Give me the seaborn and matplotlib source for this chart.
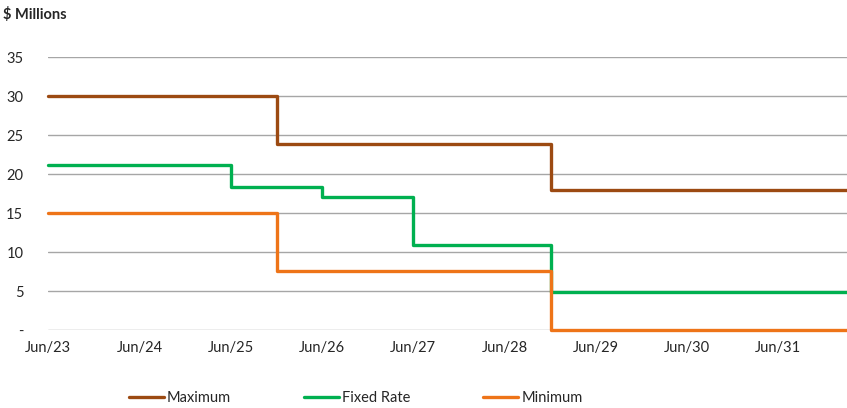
import numpy as np
import matplotlib
matplotlib.use("Agg")
import matplotlib.pyplot as plt
import pandas as pd
import seaborn as sns

# step dates (value holds from this date until the next one)
max_dates = ["2023-06-30", "2025-12-31", "2028-12-31", "2032-03-31"]
max_values = [30.0, 23.8, 17.9, 17.9]

fixed_dates = ["2023-06-30", "2025-06-30", "2026-06-30", "2027-06-30",
               "2028-12-31", "2032-03-31"]
fixed_values = [21.2, 18.4, 17.1, 10.9, 4.9, 4.9]

min_dates = ["2023-06-30", "2025-12-31", "2028-12-31", "2032-03-31"]
min_values = [15.0, 7.6, 0.0, 0.0]

series_names = ["Maximum", "Fixed Rate", "Minimum"]
colors = ["#9C4A12", "#00B050", "#EE7418"]
tick_years = list(range(2023, 2032))
y_ticks = [0, 5, 10, 15, 20, 25, 30, 35]

frames = []
for name, d, v in zip(series_names, [max_dates, fixed_dates, min_dates],
                      [max_values, fixed_values, min_values]):
    frames.append(pd.DataFrame({"date": pd.to_datetime(d), "value": v, "series": name}))
df = pd.concat(frames, ignore_index=True)

sns.set_style("white")
plt.rcParams["font.family"] = ["Lato", "DejaVu Sans"]

fig = plt.figure(figsize=(8.47, 4.08), dpi=100)
ax = fig.add_axes([0.057, 0.191, 0.943, 0.669])

sns.lineplot(data=df, x="date", y="value", hue="series", hue_order=series_names,
             palette=colors, drawstyle="steps-post", linewidth=2.4, ax=ax,
             legend=False, zorder=3)
for line in ax.lines:
    line.set_clip_on(False)

ax.set_ylim(0, 35)
ax.set_xlim(pd.Timestamp("2023-06-30"), pd.Timestamp("2032-03-31"))
ax.set_yticks(y_ticks)
ax.set_yticklabels(["-"] + [str(t) for t in y_ticks[1:]])
ticks = [pd.Timestamp(f"{y}-06-30") for y in tick_years]
ax.set_xticks(ticks)
ax.set_xticklabels([f"Jun/{y % 100}" for y in tick_years])
ax.yaxis.grid(True, color="#A6A6A6", linewidth=1.0)
ax.set_axisbelow(True)
for s in ax.spines.values():
    s.set_visible(False)
ax.tick_params(axis="both", length=0, labelsize=10.5, colors="#262626")
ax.tick_params(axis="y", pad=18)
ax.tick_params(axis="x", pad=8)
ax.set_xlabel("")
ax.set_ylabel("")

fig.text(0.004, 0.965, "$ Millions", fontsize=10.5, fontweight="bold",
         color="#262626", va="center", ha="left")

handles = [plt.Line2D([], [], color=c, linewidth=2.4) for c in colors]
fig.legend(handles, series_names, loc="center", bbox_to_anchor=(0.42, 0.025),
           ncol=3, frameon=False, fontsize=10.5, handlelength=2.4,
           handletextpad=0.2, columnspacing=5.0, prop={"size": 10.5})

fig.savefig("out.png", dpi=100)
